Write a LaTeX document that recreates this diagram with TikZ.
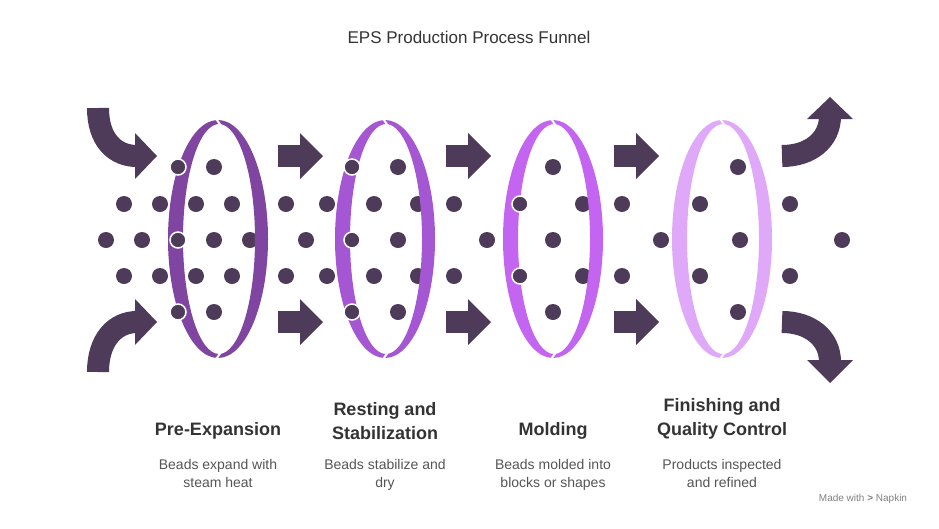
\documentclass[tikz,border=0pt]{standalone}
\usepackage{fontspec}
\setmainfont{Liberation Sans}
\begin{document}
\definecolor{dk}{HTML}{4D3B59}
\definecolor{ra}{HTML}{7F45A0}
\definecolor{rb}{HTML}{A557D3}
\definecolor{rc}{HTML}{C465F2}
\definecolor{rd}{HTML}{DFA8F9}
\definecolor{tx}{HTML}{333333}
\definecolor{ds}{HTML}{555555}
\begin{tikzpicture}[x=1pt,y=-1pt,
  dot/.style={fill=dk},
  wdot/.style={fill=dk,draw=white,line width=1.5},
  band/.style={draw=dk,line width=22},
  head/.style={fill=dk},
  lbl/.style={font=\bfseries\fontsize{18}{24}\selectfont,text=tx,align=center,anchor=south},
  desc/.style={font=\fontsize{14}{18}\selectfont,text=ds,align=center,anchor=north}]
\useasboundingbox (0,0) rectangle (939,528);
\node[font=\fontsize{17}{20}\selectfont,text=tx] (title) at (469,37) {EPS Production Process Funnel};
% dots
\foreach \x/\y in {178/167,214/167,124/204,160/204,196/204,232/204,106/240,142/240,178/240,214/240,250/240,124/276,160/276,196/276,232/276,178/312,214/312,
 352/167,398/167,286/204,327/204,374/204,418/204,306/240,352/240,398/240,286/276,327/276,374/276,418/276,352/312,398/312,
 454/204,454/276,487/240,553/167,520/204,583/204,553/240,520/276,583/276,553/312,622/204,622/276,661/240,
 738/167,700/204,740/240,700/276,738/312,790/204,790/276,842/240}
  \fill[dot] (\x,\y) circle (8);
% rings
\foreach \cx/\c in {218/ra,385/rb,553/rc,722/rd}{
  \fill[\c,even odd rule] (\cx,239) ellipse [x radius=50,y radius=119] (\cx+1,239) ellipse [x radius=36,y radius=115];
  \draw[white,line width=2] (\cx-3,117) -- (\cx+3,126);
  \draw[white,line width=2] (\cx-3,361) -- (\cx+3,352);
}
\foreach \x/\y in {178/167,178/240,178/312,352/167,352/240,352/312,520/204,520/276}
  \draw[wdot] (\x,\y) circle (8);
% straight arrows
\foreach \x in {278,446,614}{
  \foreach \y in {156,322}{
    \fill[head] (\x,\y-11) rectangle (\x+24,\y+11);
    \fill[head] (\x+22,\y-23) -- (\x+45,\y) -- (\x+22,\y+23) -- cycle;
  }}
% curved arrows
\draw[band] (98,108) .. controls (98,140) and (115,156) .. (137,156);
\fill[head] (135,133) -- (157,156) -- (135,179) -- cycle;
\draw[band] (98,372) .. controls (98,340) and (115,322) .. (137,322);
\fill[head] (135,299) -- (157,322) -- (135,345) -- cycle;
\draw[band] (782,156) .. controls (810,156) and (830,140) .. (830,116);
\fill[head] (807,119) -- (830,97) -- (853,119) -- cycle;
\draw[band] (782,322) .. controls (810,322) and (830,338) .. (830,362);
\fill[head] (807,360) -- (830,383) -- (853,360) -- cycle;
% labels
\node[lbl] (l1) at (218,443) {Pre-Expansion};
\node[lbl] (l2) at (385,443) {Resting and\\Stabilization};
\node[lbl] (l3) at (553,443) {Molding};
\node[lbl] (l4) at (722,443) {Finishing and\\Quality Control};
\node[desc] (d1) at (218,456) {Beads expand with\\steam heat};
\node[desc] (d2) at (385,456) {Beads stabilize and\\dry};
\node[desc] (d3) at (553,456) {Beads molded into\\blocks or shapes};
\node[desc] (d4) at (722,456) {Products inspected\\and refined};
\node[font=\fontsize{10}{12}\selectfont,text=gray] (mw) at (863,499) {Made with \textbf{\textgreater} Napkin};
\end{tikzpicture}
\end{document}
